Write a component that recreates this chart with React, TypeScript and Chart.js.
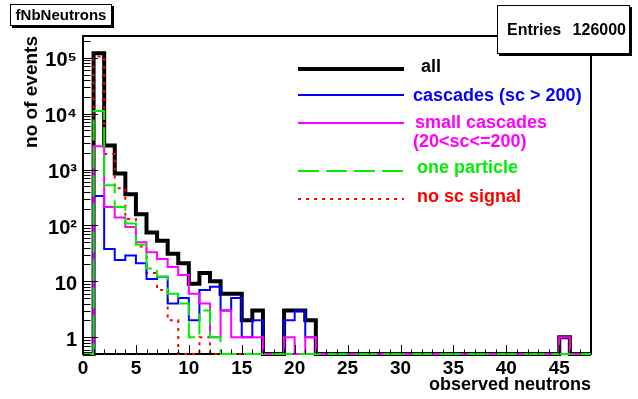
import React, { useEffect, useRef } from 'react';
import { Chart, registerables } from 'chart.js';

Chart.register(...registerables);

// ---------- data (bin low edges 0..47, bin width 1) ----------
const binLowEdges = [
  0, 1, 2, 3, 4, 5, 6, 7, 8, 9, 10, 11, 12, 13, 14, 15, 16, 17, 18, 19, 20, 21, 22, 23,
  24, 25, 26, 27, 28, 29, 30, 31, 32, 33, 34, 35, 36, 37, 38, 39, 40, 41, 42, 43, 44, 45, 46, 47,
];
const X_MAX = 48;
const Y_MIN = 0.5;
const Y_MAX = 245000;

const allEvents = [
  0, 120000, 2690, 850, 361, 158, 75, 53, 31, 21, 9, 14, 10, 6, 6, 2, 3, 0, 0, 3, 3, 2, 0, 0,
  0, 0, 0, 0, 0, 0, 0, 0, 0, 0, 0, 0, 0, 0, 0, 0, 0, 0, 0, 0, 0, 1, 0, 0,
];
const cascades = [
  0, 336, 38, 24, 29, 21, 11, 12, 4, 5, 2, 7, 8, 3, 5, 1, 2, 0, 0, 2, 3, 1, 0, 0,
  0, 0, 0, 0, 0, 0, 0, 0, 0, 0, 0, 0, 0, 0, 0, 0, 0, 0, 0, 0, 0, 0, 0, 0,
];
const smallCascades = [
  0, 2600, 214, 138, 94, 50, 33, 25, 18, 13, 6, 4, 1, 3, 1, 1, 1, 0, 0, 1, 0, 1, 0, 0,
  0, 0, 0, 0, 0, 0, 0, 0, 0, 0, 0, 0, 0, 0, 0, 0, 0, 0, 0, 0, 0, 1, 0, 0,
];
const oneParticle = [
  0, 11100, 524, 214, 108, 45, 17, 12, 6, 4, 1, 3, 1, 0, 0, 0, 0, 0, 0, 0, 0, 0, 0, 0,
  0, 0, 0, 0, 0, 0, 0, 0, 0, 0, 0, 0, 0, 0, 0, 0, 0, 0, 0, 0, 0, 0, 0, 0,
];
const noScSignal = [
  0, 105000, 1900, 460, 130, 42, 14, 7, 2, 0, 0, 1, 0, 0, 0, 0, 0, 0, 0, 0, 0, 0, 0, 0,
  0, 0, 0, 0, 0, 0, 0, 0, 0, 0, 0, 0, 0, 0, 0, 0, 0, 0, 0, 0, 0, 0, 0, 0,
];

const seriesLabels = ['all', 'cascades (sc > 200)', 'small cascades\n(20<sc<=200)', 'one particle', 'no sc signal'];
const yTickLabels: Record<number, string> = { 1: '1', 10: '10', 100: '10²', 1000: '10³', 10000: '10⁴', 100000: '10⁵' };
const histTitle = 'fNbNeutrons';
const entriesLabel = 'Entries';
const entriesValue = '126000';
const xTitle = 'observed neutrons';
const yTitle = 'no of events';

const FONT = "'Liberation Sans', Arial, Helvetica, sans-serif";

// empty bins are drawn on the floor of the log axis, as ROOT does
const toPoints = (vals: number[]) => {
  const pts = vals.map((v, i) => ({ x: binLowEdges[i], y: v > 0 ? v : Y_MIN }));
  pts.push({ x: X_MAX, y: pts[pts.length - 1].y });
  return pts;
};

const styles = [
  { color: '#000000', width: 4, dash: [] as number[], order: 5 },
  { color: '#0000ff', width: 2, dash: [] as number[], order: 3 },
  { color: '#ff00ff', width: 2, dash: [] as number[], order: 2 },
  { color: '#00ee00', width: 2, dash: [21, 7], order: 1 },
  { color: '#ff0000', width: 2, dash: [3, 5], order: 4 },
];
const seriesValues = [allEvents, cascades, smallCascades, oneParticle, noScSignal];

const rootPlugin = {
  id: 'rootDecor',
  beforeDatasetsDraw(chart: any) {
    const { ctx, chartArea: a } = chart;
    ctx.save();
    ctx.strokeStyle = '#000';
    ctx.lineWidth = 2;
    ctx.strokeRect(a.left, a.top, a.right - a.left, a.bottom - a.top);
    ctx.restore();
  },
  afterDatasetsDraw(chart: any) {
    const { ctx, chartArea: a, scales } = chart;
    ctx.save();
    ctx.strokeStyle = '#000';
    ctx.lineWidth = 1;
    for (let v = 0; v <= X_MAX; v++) {
      const px = Math.round(scales.x.getPixelForValue(v)) + 0.5;
      const len = v % 5 === 0 ? 9 : 4.5;
      ctx.beginPath();
      ctx.moveTo(px, a.bottom);
      ctx.lineTo(px, a.bottom - len);
      ctx.stroke();
    }
    for (let e = -1; e <= 5; e++) {
      for (let m = 1; m <= 9; m++) {
        const v = m * Math.pow(10, e);
        if (v < Y_MIN || v > Y_MAX) continue;
        const py = Math.round(scales.y.getPixelForValue(v)) + 0.5;
        const len = m === 1 ? 15 : 7.5;
        ctx.beginPath();
        ctx.moveTo(a.left, py);
        ctx.lineTo(a.left + len, py);
        ctx.stroke();
      }
    }
    ctx.restore();
  },
  afterDraw(chart: any) {
    const { ctx } = chart;
    ctx.save();
    // legend
    const rows = [
      { ly: 69, tx: 421, ty: [67] },
      { ly: 95, tx: 413, ty: [96] },
      { ly: 123, tx: 415, ty: [123, 142] },
      { ly: 171, tx: 417, ty: [168] },
      { ly: 199, tx: 417, ty: [197] },
    ];
    rows.forEach((r, i) => {
      const s = styles[i];
      ctx.strokeStyle = s.color;
      ctx.lineWidth = s.width;
      ctx.setLineDash(s.dash);
      ctx.beginPath();
      ctx.moveTo(298, r.ly);
      ctx.lineTo(404, r.ly);
      ctx.stroke();
      ctx.setLineDash([]);
      ctx.fillStyle = s.color;
      ctx.font = `bold 18px ${FONT}`;
      ctx.textAlign = 'left';
      ctx.textBaseline = 'middle';
      seriesLabels[i].split('\n').forEach((t, k) => ctx.fillText(t, k === 0 ? r.tx : 413, r.ty[k]));
    });
    // title box
    const box = (x: number, y: number, w: number, h: number) => {
      ctx.fillStyle = '#000';
      ctx.fillRect(x + 2, y + 2, w, h);
      ctx.fillStyle = '#fff';
      ctx.fillRect(x, y, w, h);
      ctx.strokeStyle = '#000';
      ctx.lineWidth = 1;
      ctx.strokeRect(x + 0.5, y + 0.5, w - 1, h - 1);
    };
    box(10, 4, 102, 22);
    ctx.fillStyle = '#000';
    ctx.font = `bold 15px ${FONT}`;
    ctx.textAlign = 'center';
    ctx.textBaseline = 'middle';
    ctx.fillText(histTitle, 61, 16);
    box(497, 5, 133, 49);
    ctx.fillStyle = '#000';
    ctx.font = `bold 16px ${FONT}`;
    ctx.textAlign = 'left';
    ctx.fillText(entriesLabel, 507, 31);
    ctx.textAlign = 'right';
    ctx.fillText(entriesValue, 626, 31);
    ctx.restore();
  },
};

export default function App() {
  const ref = useRef<HTMLCanvasElement>(null);
  useEffect(() => {
    document.body.style.margin = '0';
    const chart = new Chart(ref.current as HTMLCanvasElement, {
      type: 'line',
      data: {
        datasets: seriesValues.map((vals, i) => ({
          label: seriesLabels[i].replace('\n', ' '),
          data: toPoints(vals),
          borderColor: styles[i].color,
          borderWidth: styles[i].width,
          borderDash: styles[i].dash,
          order: styles[i].order,
          stepped: 'before' as const,
          pointRadius: 0,
          fill: false,
          tension: 0,
          clip: 4,
        })),
      },
      options: {
        responsive: false,
        animation: false,
        events: [],
        layout: { padding: { left: 0, right: 47, top: 36, bottom: 0 } },
        plugins: { legend: { display: false }, tooltip: { enabled: false } },
        scales: {
          x: {
            type: 'linear',
            min: 0,
            max: X_MAX,
            afterFit: (s: any) => { s.height = 45; },
            grid: { display: false, drawTicks: false },
            border: { display: false },
            ticks: {
              stepSize: 5,
              includeBounds: false,
              color: '#000',
              padding: 3,
              maxRotation: 0,
              font: { family: FONT, weight: 'bold', size: 19 },
            },
            title: {
              display: true,
              text: xTitle,
              align: 'end',
              color: '#000',
              padding: { top: 0, bottom: 3 },
              font: { family: FONT, weight: 'bold', size: 18 },
            },
          },
          y: {
            type: 'logarithmic',
            min: Y_MIN,
            max: Y_MAX,
            afterFit: (s: any) => { s.width = 83; },
            grid: { display: false, drawTicks: false },
            border: { display: false },
            ticks: {
              autoSkip: false,
              color: '#000',
              padding: 6,
              labelOffset: 3,
              font: { family: FONT, weight: 'bold', size: 20 },
              callback: (v: any) => {
                const n = Number(v);
                const l = Math.log10(n);
                if (Math.abs(l - Math.round(l)) < 1e-9) return yTickLabels[Math.round(n)] ?? '';
                return '';
              },
            },
            title: {
              display: true,
              text: yTitle,
              align: 'end',
              color: '#000',
              padding: { top: 20, bottom: 0 },
              font: { family: FONT, weight: 'bold', size: 19 },
            },
          },
        },
      },
      plugins: [rootPlugin],
    } as any);
    return () => chart.destroy();
  }, []);
  return (
    <div style={{ position: 'fixed', left: 0, top: 0, width: 638, height: 399, background: '#fff' }}>
      <canvas ref={ref} width={638} height={399} style={{ display: 'block', width: 638, height: 399 }} />
    </div>
  );
}
